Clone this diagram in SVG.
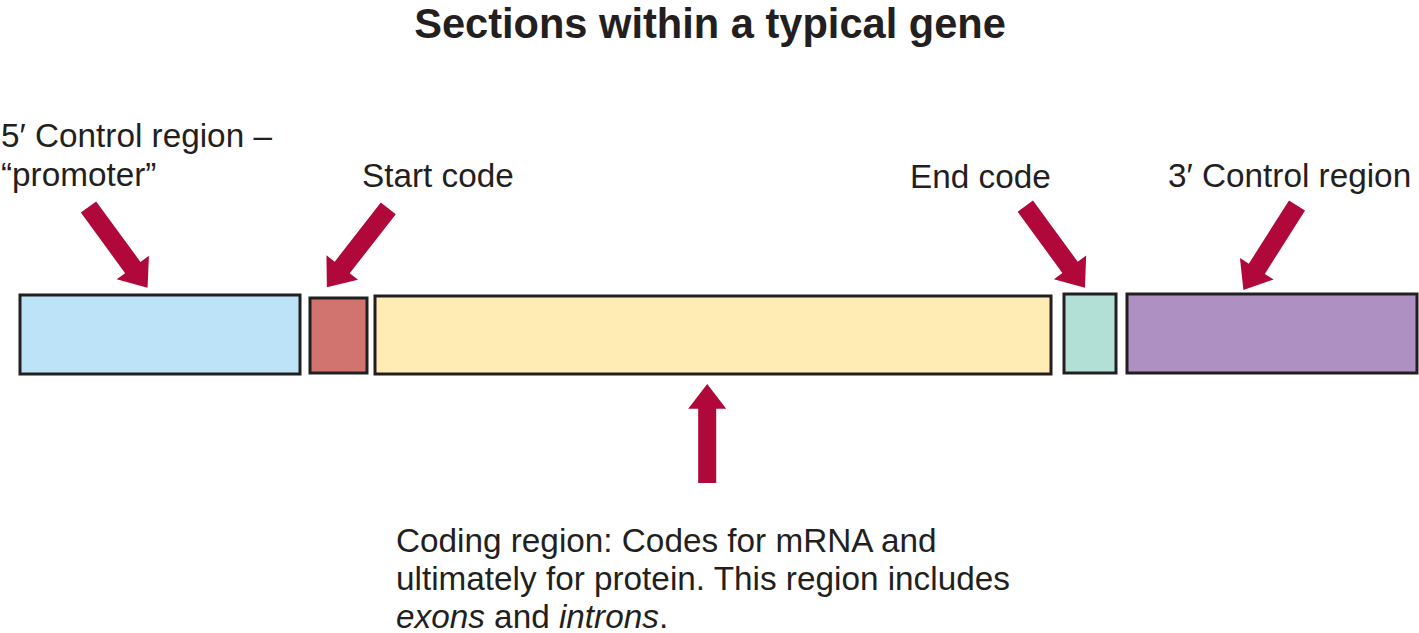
<svg xmlns="http://www.w3.org/2000/svg" width="1419" height="633" viewBox="0 0 1419 633">
<style>
text{font-family:"Liberation Sans",Arial,sans-serif;fill:#231f20;font-size:33.3px}
.title{font-size:41.6px;font-weight:bold}
.box{stroke:#231f20;stroke-width:3}
.arrow{fill:#b0083a}
</style>
<defs>
<polygon id="arr" points="0,-9.5 75,-9.5 75,-20 100,0 75,20 75,9.5 0,9.5"/>
</defs>
<rect width="1419" height="633" fill="#ffffff"/>
<text class="title" x="710" y="38" text-anchor="middle">Sections within a typical gene</text>
<g id="promoter">
<rect class="box" x="20" y="295" width="280" height="79" fill="#bde3f8"/>
<text x="1" y="147">5′ Control region –</text>
<text x="1" y="186">“promoter”</text>
</g>
<g id="start">
<rect class="box" x="310" y="298" width="57" height="75" fill="#d17470"/>
<text x="362" y="187">Start code</text>
</g>
<g id="coding">
<rect class="box" x="375" y="296" width="676" height="78" fill="#feecb4"/>
<text x="396" y="552">Coding region: Codes for mRNA and</text>
<text x="396" y="590">ultimately for protein. This region includes</text>
<text x="396" y="628"><tspan font-style="italic">exons</tspan> and <tspan font-style="italic">introns</tspan>.</text>
</g>
<g id="end">
<rect class="box" x="1064" y="294" width="52" height="79" fill="#b3e0d6"/>
<text x="910" y="188">End code</text>
</g>
<g id="control3">
<rect class="box" x="1127" y="294" width="290" height="79" fill="#ae90c2"/>
<text x="1168" y="187">3′ Control region</text>
</g>
<g id="connectors" class="arrow">
<use href="#arr" transform="translate(88.5,207) rotate(53.8)"/>
<use href="#arr" transform="translate(388.3,208.3) rotate(127.9)"/>
<use href="#arr" transform="translate(1025.3,206.2) rotate(53.8) scale(1.01,1)"/>
<use href="#arr" transform="translate(1297,205.5) rotate(122.4)"/>
<use href="#arr" transform="translate(707.2,483) rotate(-90) scale(0.99,0.95)"/>
</g>
</svg>
